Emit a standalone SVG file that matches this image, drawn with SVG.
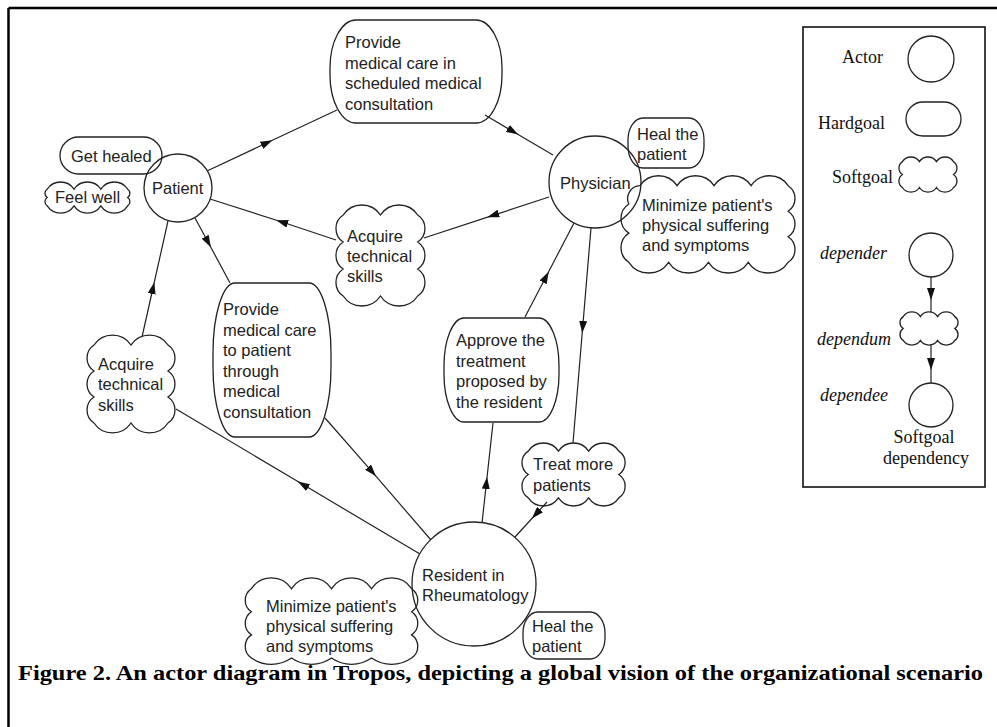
<svg xmlns="http://www.w3.org/2000/svg" width="997" height="727" viewBox="0 0 997 727">
<defs>
<style>
.ac{fill:#fff;stroke:#222;stroke-width:1.3}
.g{fill:none;stroke:#222;stroke-width:1.3}
.t{font-family:"Liberation Sans",Arial,sans-serif;font-size:16.5px;fill:#222}
.lg{font-family:"Liberation Serif","Times New Roman",serif;font-size:18px;fill:#111}
.it{font-style:italic}
.c{fill:none;stroke:#222;stroke-width:1.2;marker-mid:url(#ah)}
.lb{fill:none;stroke:#111;stroke-width:1.6}
</style>
<marker id="ah" viewBox="0 0 12 8" markerWidth="12" markerHeight="8" refX="6" refY="4" orient="auto" markerUnits="userSpaceOnUse">
<path d="M0,0 L12,4 L0,8 z" fill="#111"/>
</marker>
</defs>
<rect width="997" height="727" fill="#fff"/>
<g id="frame">
<line x1="8.5" y1="8" x2="997" y2="8" stroke="#000" stroke-width="2.5"/>
<line x1="8.5" y1="8" x2="8.5" y2="727" stroke="#000" stroke-width="2.5"/>
</g>
<g id="connectors">
<path class="c" d="M207,171 L267,142.8 L337,110"/>
<path class="c" d="M485,115 L513,131.5 L553,155"/>
<path class="c" d="M549,197 L493,215.4 L424,238"/>
<path class="c" d="M336,240 L282,222 L210,199"/>
<path class="c" d="M195,218 L208,242 L230,283"/>
<path class="c" d="M142,337 L153,288 L168,221"/>
<path class="c" d="M325,418 L372,471.7 L431,540"/>
<path class="c" d="M420,554 L303,484.6 L176,409"/>
<path class="c" d="M482,523 L486.4,483 L493,423"/>
<path class="c" d="M525,317 L545.9,277 L574,223"/>
<path class="c" d="M591,228 L582.7,327 L573,443"/>
<path class="c" d="M547,502 L536,514 L515,537"/>
<path class="c" d="M931,277 L931,294 L931,313"/>
<path class="c" d="M931,344 L931,364 L931,383"/>
</g>
<g id="patient">
<circle class="ac" cx="178" cy="188" r="34"/>
<text class="t" x="152" y="194">Patient</text>
</g>
<g id="physician">
<circle class="ac" cx="595" cy="182" r="46"/>
<text class="t" x="560" y="189">Physician</text>
</g>
<g id="resident">
<circle class="ac" cx="474" cy="584" r="62"/>
<text class="t" x="422" y="581">Resident in</text>
<text class="t" x="422" y="601">Rheumatology</text>
</g>
<g id="get-healed">
<rect class="g" x="60" y="137" width="102" height="37" rx="18.5"/>
<text class="t" x="71" y="162">Get healed</text>
</g>
<g id="feel-well">
<path class="g" d="M47.2,189.2 a16.1,16.1 0 0 1 26.83,0 a16.1,16.1 0 0 1 26.83,0 a16.1,16.1 0 0 1 26.83,0 a5,5 0 0 1 0,8.33 a5,5 0 0 1 0,8.33 a16.1,16.1 0 0 1 -26.83,0 a16.1,16.1 0 0 1 -26.83,0 a16.1,16.1 0 0 1 -26.83,0 a5,5 0 0 1 0,-8.33 a5,5 0 0 1 0,-8.33 z"/>
<text class="t" x="55" y="203">Feel well</text>
</g>
<g id="provide-scheduled">
<rect class="g" x="330" y="20" width="172" height="103" rx="26" ry="48"/>
<text class="t"><tspan x="345" y="48">Provide</tspan><tspan x="345" y="68.5">medical care in</tspan><tspan x="345" y="89">scheduled medical</tspan><tspan x="345" y="109.5">consultation</tspan></text>
</g>
<g id="heal-physician">
<rect class="g" x="628" y="118" width="76" height="50" rx="15" ry="22"/>
<text class="t"><tspan x="637" y="140">Heal the</tspan><tspan x="637" y="160">patient</tspan></text>
</g>
<g id="minimize-physician">
<path class="g" d="M640,185.7 a22.2,22.2 0 0 1 37.03,0 a22.2,22.2 0 0 1 37.03,0 a22.2,22.2 0 0 1 37.03,0 a22.2,22.2 0 0 1 37.03,0 a15.3,15.3 0 0 1 0,25.53 a15.3,15.3 0 0 1 0,25.53 a15.3,15.3 0 0 1 0,25.53 a23.9,23.9 0 0 1 -39.83,0 a23.9,23.9 0 0 1 -39.83,0 a23.9,23.9 0 0 1 -39.83,0 a23.9,23.9 0 0 1 -39.83,0 a17.5,17.5 0 0 1 0,-29.15 a17.5,17.5 0 0 1 0,-29.15 A12.9,12.9 0 0 1 640,185.7 z"/>
<text class="t"><tspan x="642" y="211">Minimize patient's</tspan><tspan x="642" y="231">physical suffering</tspan><tspan x="642" y="251">and symptoms</tspan></text>
</g>
<g id="acquire-middle">
<path class="g" d="M343.2,215 a22.35,22.35 0 0 1 37.25,0 a22.35,22.35 0 0 1 37.25,0 a16.2,16.2 0 0 1 0,27 a16.2,16.2 0 0 1 0,27 a16.2,16.2 0 0 1 0,27 a22.35,22.35 0 0 1 -37.25,0 a22.35,22.35 0 0 1 -37.25,0 a16.2,16.2 0 0 1 0,-27 a16.2,16.2 0 0 1 0,-27 a16.2,16.2 0 0 1 0,-27 z"/>
<text class="t"><tspan x="347" y="242">Acquire</tspan><tspan x="347" y="262">technical</tspan><tspan x="347" y="282">skills</tspan></text>
</g>
<g id="acquire-left">
<path class="g" d="M94,345 a22.2,22.2 0 0 1 37,0 a22.2,22.2 0 0 1 37,0 a15.6,15.6 0 0 1 0,26 a15.6,15.6 0 0 1 0,26 a15.6,15.6 0 0 1 0,26 a22.2,22.2 0 0 1 -37,0 a22.2,22.2 0 0 1 -37,0 a15.6,15.6 0 0 1 0,-26 a15.6,15.6 0 0 1 0,-26 a15.6,15.6 0 0 1 0,-26 z"/>
<text class="t"><tspan x="98" y="370">Acquire</tspan><tspan x="98" y="390">technical</tspan><tspan x="98" y="411">skills</tspan></text>
</g>
<g id="provide-through">
<rect class="g" x="213" y="283" width="118" height="154" rx="22" ry="70"/>
<text class="t"><tspan x="223" y="315">Provide</tspan><tspan x="223" y="335.5">medical care</tspan><tspan x="223" y="356">to patient</tspan><tspan x="223" y="376.5">through</tspan><tspan x="223" y="397">medical</tspan><tspan x="223" y="417.5">consultation</tspan></text>
</g>
<g id="approve">
<rect class="g" x="444" y="318" width="115" height="104" rx="20" ry="48"/>
<text class="t"><tspan x="456" y="346">Approve the</tspan><tspan x="456" y="366.5">treatment</tspan><tspan x="456" y="387">proposed by</tspan><tspan x="456" y="407.5">the resident</tspan></text>
</g>
<g id="treat-more">
<path class="g" d="M528.3,451.1 a18.1,18.1 0 0 1 30.17,0 a18.1,18.1 0 0 1 30.17,0 a18.1,18.1 0 0 1 30.17,0 a14,14 0 0 1 0,23.4 a14,14 0 0 1 0,23.4 a18.1,18.1 0 0 1 -30.17,0 a18.1,18.1 0 0 1 -30.17,0 a18.1,18.1 0 0 1 -30.17,0 a14,14 0 0 1 0,-23.4 a14,14 0 0 1 0,-23.4 z"/>
<text class="t"><tspan x="533" y="470">Treat more</tspan><tspan x="533" y="491">patients</tspan></text>
</g>
<g id="minimize-resident">
<path class="g" d="M251.4,588.7 a24,24 0 0 1 40.05,0 a24,24 0 0 1 40.05,0 a24,24 0 0 1 40.05,0 a24,24 0 0 1 40.05,0 a13.9,13.9 0 0 1 0,23.1 a13.9,13.9 0 0 1 0,23.1 a13.9,13.9 0 0 1 0,23.1 a35,35 0 0 1 -40.05,0 a35,35 0 0 1 -40.05,0 a35,35 0 0 1 -40.05,0 a35,35 0 0 1 -40.05,0 a13.9,13.9 0 0 1 0,-23.1 a13.9,13.9 0 0 1 0,-23.1 a13.9,13.9 0 0 1 0,-23.1 z"/>
<text class="t"><tspan x="266" y="612">Minimize patient's</tspan><tspan x="266" y="632">physical suffering</tspan><tspan x="266" y="652">and symptoms</tspan></text>
</g>
<g id="heal-resident">
<rect class="g" x="523" y="612" width="82" height="47" rx="15" ry="21"/>
<text class="t"><tspan x="532" y="632">Heal the</tspan><tspan x="532" y="652">patient</tspan></text>
</g>
<g id="legend">
<rect class="lb" x="803" y="27" width="182" height="460"/>
<text class="lg" x="842" y="63">Actor</text>
<circle class="g" cx="931" cy="59" r="23"/>
<text class="lg" x="818" y="129">Hardgoal</text>
<rect class="g" x="906" y="102" width="55" height="34" rx="17"/>
<text class="lg" x="832" y="183">Softgoal</text>
<path class="g" d="M902.4,161.6 a10.2,10.2 0 0 1 17.03,0 a10.2,10.2 0 0 1 17.03,0 a10.2,10.2 0 0 1 17.03,0 a7.8,7.8 0 0 1 0,12.95 a7.8,7.8 0 0 1 0,12.95 a10.2,10.2 0 0 1 -17.03,0 a10.2,10.2 0 0 1 -17.03,0 a10.2,10.2 0 0 1 -17.03,0 a7.8,7.8 0 0 1 0,-12.95 a7.8,7.8 0 0 1 0,-12.95 z"/>
<text class="lg it" x="820" y="259">depender</text>
<circle class="ac" cx="931" cy="255" r="22"/>
<text class="lg it" x="817" y="345">dependum</text>
<path class="ac" d="M903.2,316.6 a10.3,10.3 0 0 1 17.2,0 a10.3,10.3 0 0 1 17.2,0 a10.3,10.3 0 0 1 17.2,0 a7.1,7.1 0 0 1 0,11.9 a7.1,7.1 0 0 1 0,11.9 a10.3,10.3 0 0 1 -17.2,0 a10.3,10.3 0 0 1 -17.2,0 a10.3,10.3 0 0 1 -17.2,0 a7.1,7.1 0 0 1 0,-11.9 a7.1,7.1 0 0 1 0,-11.9 z"/>
<text class="lg it" x="820" y="401">dependee</text>
<circle class="ac" cx="931" cy="405" r="22"/>
<text class="lg" x="924" y="443" text-anchor="middle">Softgoal</text>
<text class="lg" x="926" y="464" text-anchor="middle">dependency</text>
</g>
<g id="caption">
<text x="18" y="680" font-family="'Liberation Serif','Times New Roman',serif" font-weight="bold" font-size="21" fill="#000" textLength="965" lengthAdjust="spacingAndGlyphs">Figure 2. An actor diagram in Tropos, depicting a global vision of the organizational scenario</text>
</g>
</svg>
